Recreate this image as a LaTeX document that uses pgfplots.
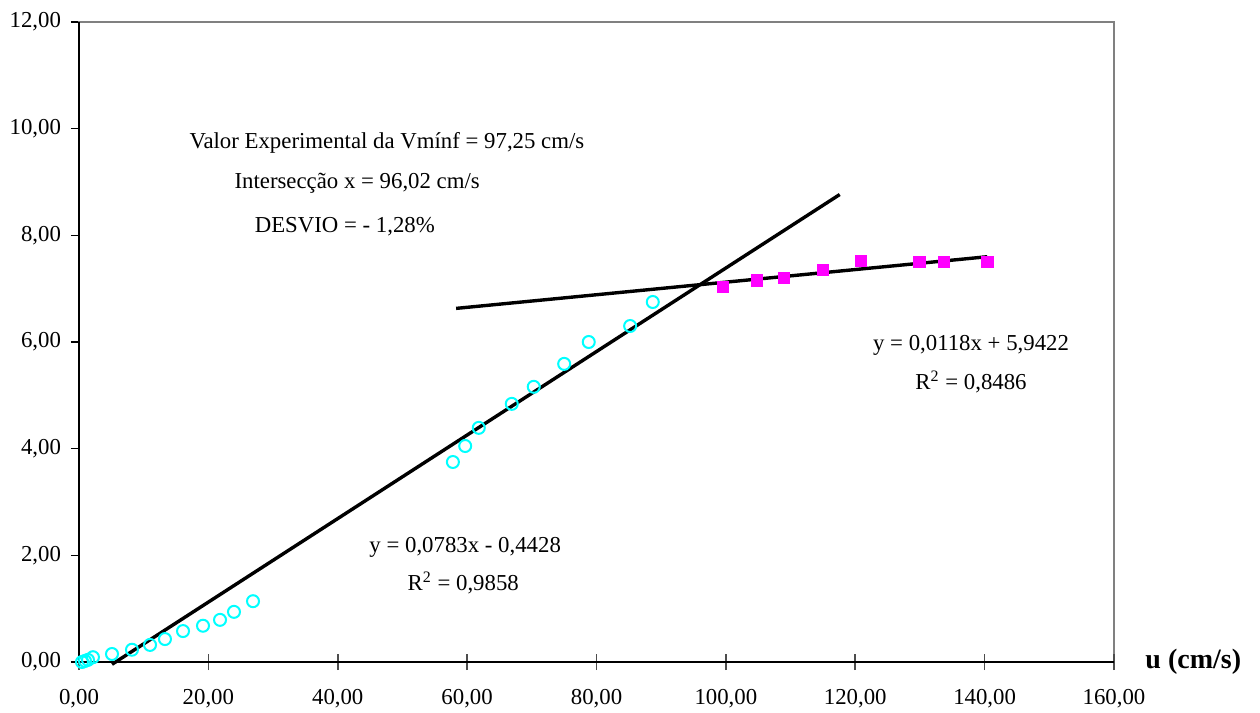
\documentclass[border=0pt]{standalone}
\usepackage{fontspec}
\setmainfont{Liberation Serif}
\usepackage{pgfplots}
\pgfplotsset{compat=1.18}
\definecolor{cyanpt}{RGB}{0,255,255}
\definecolor{magpt}{RGB}{255,0,255}
\definecolor{framegray}{RGB}{128,128,128}
\begin{document}
\begin{tikzpicture}
\begin{axis}[
  at={(0,0)}, anchor=south west,
  scale only axis, width=517.5pt, height=320pt,
  xmin=0, xmax=160, ymin=0, ymax=12,
  clip=false,
  font=\fontsize{11.4}{13.7}\selectfont,
  axis line style={framegray, line width=0.9pt},
  ytick={0,2,...,12},
  xtick=\empty,
  extra x ticks={0,20,40,60,80,100,120,140,160},
  extra x tick style={tick align=center, major tick length=8pt, tick style={framegray!60!black, line width=0.8pt}},
  tick align=outside, major tick length=4pt,
  tick pos=left,
  y tick style={black, line width=0.8pt},
  xticklabel style={yshift=-6pt},
  yticklabel style={xshift=-1.5pt},
  /pgf/number format/.cd, fixed, fixed zerofill, precision=2, use comma, 1000 sep={}, assume math mode=true,
]
\addplot[only marks, mark=o, mark size=3pt, cyanpt, line width=1pt] coordinates {
(0.46,0.00) (0.93,0.02) (1.39,0.04) (2.16,0.09) (5.10,0.15) (8.19,0.23)
(10.98,0.32) (13.29,0.43) (16.08,0.58) (19.17,0.68) (21.80,0.79) (23.96,0.94)
(26.90,1.14) (57.80,3.75) (59.70,4.05) (61.80,4.39) (66.90,4.84) (70.30,5.16)
(75.00,5.59) (78.80,6.00) (85.20,6.30) (88.70,6.75)
};
\addplot[only marks, mark=square*, mark size=2.9pt, magpt, mark options={rounded corners=0.8pt}] coordinates {
(99.55,7.03) (104.8,7.16) (109.0,7.20) (115.0,7.35) (120.9,7.52) (129.9,7.50) (133.7,7.50) (140.4,7.50)
};
\addplot[black, line width=1.7pt, no marks] coordinates {(5.1,-0.0435) (117.6,8.7653)};
\addplot[black, line width=1.7pt, no marks] coordinates {(58.3,6.6301) (140.4,7.5989)};
\draw[black, line width=0.9pt] (rel axis cs:0,1) -- (rel axis cs:0,0) -- (rel axis cs:1,0);
\node at (axis cs:47.6,9.73) {Valor Experimental da Vmínf = 97,25 cm/s};
\node at (axis cs:43.0,8.98) {Intersecção x = 96,02 cm/s};
\node at (axis cs:41.1,8.16) {DESVIO = - 1,28\%};
\node at (axis cs:59.7,2.14) {y = 0,0783x - 0,4428};
\node at (axis cs:59.4,1.48) {R\textsuperscript{2} = 0,9858};
\node at (axis cs:137.9,5.94) {y = 0,0118x + 5,9422};
\node at (axis cs:137.9,5.25) {R\textsuperscript{2} = 0,8486};
\node[anchor=west, font=\fontsize{14}{16}\selectfont\bfseries, inner sep=0pt] at (axis cs:164.8,0) {u (cm/s)};
\end{axis}
\pgfresetboundingbox
\path[use as bounding box] (-39.5pt,-25.5pt) rectangle (590.5pt,331pt);
\end{tikzpicture}
\end{document}
